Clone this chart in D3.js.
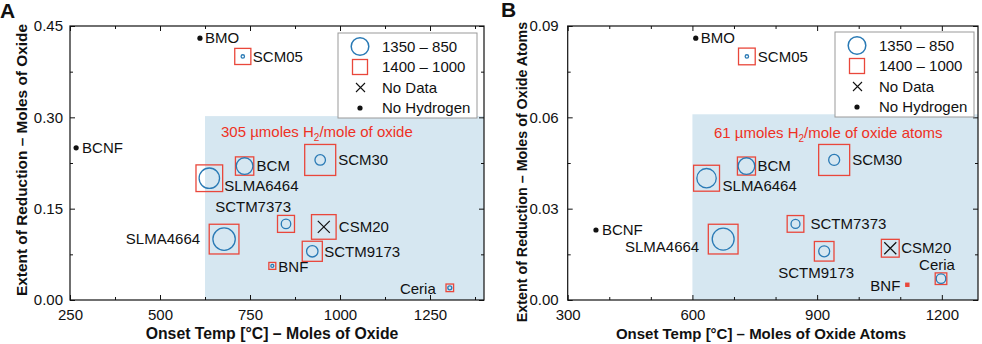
<!DOCTYPE html>
<html>
<head>
<meta charset="utf-8">
<script src="https://cdn.jsdelivr.net/npm/d3@7"></script>
<style>
  body { margin: 0; background: #fff; }
  svg { font-family: "Liberation Sans", Arial, sans-serif; }
</style>
</head>
<body>
<svg id="drawing_region"></svg>
<script>
// samples, same order in every array
const samples = ["BMO", "SCM05", "BCNF", "BCM", "SLMA6464", "SCM30", "SCTM7373", "CSM20", "SCTM9173", "BNF", "Ceria", "SLMA4664"];

// panel A : per mole of oxide
const onsetA = [611, 730, 267, 735, 637, 945, 850, 955, 923, 812, 1305, 678];
const reductionA = [0.43, 0.40, 0.25, 0.22, 0.20, 0.23, 0.125, 0.12, 0.08, 0.056, 0.02, 0.10];
const h2CycleHighA = [null, 2.3, null, 55, 83, 22, 18, null, 26, 1.3, 3.2, 100];   // 1350 - 850 (circles), null = no data
const h2CycleLowA = [null, 27, null, 35, 74, 100, 30, 63, 42, 5, 6, 92];          // 1400 - 1000 (squares), null = no hydrogen

// panel B : per mole of oxide atoms
const onsetB = [608, 731, 368, 730, 634, 941, 848, 1076, 917, 1117, 1198, 674];
const reductionB = [0.086, 0.080, 0.023, 0.044, 0.040, 0.046, 0.025, 0.017, 0.016, 0.005, 0.007, 0.020];
const h2CycleHighB = [null, 2.3, null, 55, 75, 24, 16, null, 24, 0, 18, 96];
const h2CycleLowB = [null, 29, null, 34, 70, 100, 29, 33, 40, 1, 14, 92];

// ticks
const xMajorA = [250, 500, 750, 1000, 1250], xMinorA = [375, 625, 875, 1125, 1375];
const yMajorA = [0, 0.15, 0.30, 0.45], yMinorA = [0.075, 0.225, 0.375];
const xMajorB = [300, 600, 900, 1200], xMinorB = [400, 500, 700, 800, 1000, 1100];
const yMajorB = [0, 0.03, 0.06, 0.09], yMinorB = [0.015, 0.045, 0.075];

const legendLabels = ["1350 \u2013 850", "1400 \u2013 1000", "No Data", "No Hydrogen"];

const BLUE = "#2a7ab5", RED = "#e9473b", SHADE = "#d6e7f1";

const svg = d3.select("#drawing_region").attr("width", 982).attr("height", 344);

// label placement (layout only)
const labelPosA = {
  BMO: [5, 0, "start"], SCM05: [10, 0, "start"], BCNF: [6, 0, "start"], BCM: [12, 0, "start"],
  SLMA6464: [15, 8, "start"], SCM30: [18, 0, "start"], SCTM7373: [5, -17, "end"], CSM20: [15, 0, "start"],
  SCTM9173: [12, 0, "start"], BNF: [6, 1, "start"], Ceria: [-14, 1, "end"], SLMA4664: [-24, 0, "end"]
};
const labelPosB = {
  BMO: [5, 0, "start"], SCM05: [11, 0, "start"], BCNF: [6, 0, "start"], BCM: [11, 0, "start"],
  SLMA6464: [16, 8, "start"], SCM30: [18, 0, "start"], SCTM7373: [15, 0, "start"], CSM20: [11, 0, "start"],
  SCTM9173: [-8, 21, "middle"], BNF: [-7, 1, "end"], Ceria: [-4, -14, "middle"], SLMA4664: [-24, 8, "end"]
};

function drawPanel(cfg) {
  const g = svg.append("g");
  const x = d3.scaleLinear().domain(cfg.xDomain).range([cfg.left, cfg.right]);
  const y = d3.scaleLinear().domain(cfg.yDomain).range([cfg.bottom, cfg.top]);
  const rScale = d3.scaleSqrt().domain([0, 100]).range([0, 11.2]);
  const sScale = d3.scaleSqrt().domain([0, 100]).range([0, 31]);

  const data = samples.map((s, i) => ({
    name: s, x: cfg.onset[i], y: cfg.red[i], high: cfg.high[i], low: cfg.low[i]
  }));

  // shaded region
  g.append("rect")
    .attr("x", x(cfg.shade[0])).attr("y", y(cfg.shade[1]))
    .attr("width", x(cfg.xDomain[1]) - x(cfg.shade[0]))
    .attr("height", y(0) - y(cfg.shade[1]))
    .attr("fill", SHADE);

  g.append("text")
    .attr("x", cfg.shadeText[0]).attr("y", cfg.shadeText[1])
    .attr("font-size", 15).attr("fill", "#ee3124")
    .call(t => {
      t.append("tspan").text(cfg.shadeLabel[0]);
      t.append("tspan").attr("font-size", 10).attr("dy", 4).text("2");
      t.append("tspan").attr("dy", -4).text(cfg.shadeLabel[1]);
    });

  // axes with inward ticks
  const axes = [
    [d3.axisBottom, x, `translate(0,${cfg.bottom})`, cfg.xMajor, cfg.xMinor, d3.format("d"), 9],
    [d3.axisTop, x, `translate(0,${cfg.top})`, cfg.xMajor, cfg.xMinor, null, 0],
    [d3.axisLeft, y, `translate(${cfg.left},0)`, cfg.yMajor, cfg.yMinor, d3.format(".2f"), cfg.yPad],
    [d3.axisRight, y, `translate(${cfg.right},0)`, cfg.yMajor, cfg.yMinor, null, 0]
  ];
  axes.forEach(([axisFn, sc, tr, major, minor, fmt, pad]) => {
    const ag = g.append("g").attr("transform", tr)
      .call(axisFn(sc).tickValues(major).tickSizeInner(-5).tickSizeOuter(0).tickPadding(pad)
        .tickFormat(fmt ? fmt : () => ""));
    ag.attr("font-size", 15).attr("font-family", null);
    ag.selectAll("text").attr("fill", "#111");
    ag.select(".domain").remove();
    const mg = g.append("g").attr("transform", tr)
      .call(axisFn(sc).tickValues(minor).tickSizeInner(-3).tickSizeOuter(0).tickFormat(() => ""));
    mg.select(".domain").remove();
  });
  g.selectAll(".tick line").attr("stroke", "#111");

  // frame
  g.append("rect")
    .attr("x", cfg.left).attr("y", cfg.top)
    .attr("width", cfg.right - cfg.left).attr("height", cfg.bottom - cfg.top)
    .attr("fill", "none").attr("stroke", "#111").attr("stroke-width", 1.2);

  // squares (1400 - 1000)
  g.selectAll("rect.sq").data(data.filter(d => d.low != null)).enter()
    .append("rect").attr("class", "sq")
    .attr("x", d => x(d.x) - sScale(d.low) / 2)
    .attr("y", d => y(d.y) - sScale(d.low) / 2)
    .attr("width", d => sScale(d.low)).attr("height", d => sScale(d.low))
    .attr("fill", d => d.low < 3 ? RED : "none")
    .attr("stroke", RED).attr("stroke-width", 1.3);

  // circles (1350 - 850)
  g.selectAll("circle.ci").data(data.filter(d => d.high > 0)).enter()
    .append("circle").attr("class", "ci")
    .attr("cx", d => x(d.x)).attr("cy", d => y(d.y))
    .attr("r", d => Math.max(rScale(d.high), 1.5))
    .attr("fill", "none").attr("stroke", BLUE).attr("stroke-width", 1.3);

  // no data (cross)
  data.filter(d => d.high == null && d.low != null).forEach(d => {
    const cx = x(d.x), cy = y(d.y), h = 6;
    g.append("path")
      .attr("d", `M${cx - h},${cy - h}L${cx + h},${cy + h}M${cx - h},${cy + h}L${cx + h},${cy - h}`)
      .attr("stroke", "#111").attr("stroke-width", 1.2);
  });

  // no hydrogen (dots)
  g.selectAll("circle.dot").data(data.filter(d => d.high == null && d.low == null)).enter()
    .append("circle").attr("class", "dot")
    .attr("cx", d => x(d.x)).attr("cy", d => y(d.y)).attr("r", 2.6).attr("fill", "#111");

  // labels
  g.selectAll("text.lab").data(data).enter()
    .append("text").attr("class", "lab")
    .attr("x", d => x(d.x) + cfg.labels[d.name][0])
    .attr("y", d => y(d.y) + cfg.labels[d.name][1])
    .attr("dy", "0.35em")
    .attr("text-anchor", d => cfg.labels[d.name][2])
    .attr("font-size", 15).attr("fill", "#111")
    .text(d => d.name);

  // legend
  const lg = g.append("g").attr("transform", `translate(${cfg.legend[0]},${cfg.legend[1]})`);
  lg.append("rect").attr("width", 139).attr("height", 85)
    .attr("fill", "#fff").attr("stroke", "#999").attr("stroke-width", 1);
  const rows = [13.5, 34, 54.5, 75];
  lg.append("circle").attr("cx", 22).attr("cy", rows[0]).attr("r", 8.8)
    .attr("fill", "none").attr("stroke", BLUE).attr("stroke-width", 1.5);
  lg.append("rect").attr("x", 14.5).attr("y", rows[1] - 7.5).attr("width", 15).attr("height", 15)
    .attr("fill", "none").attr("stroke", RED).attr("stroke-width", 1.3);
  lg.append("path")
    .attr("d", `M18,${rows[2] - 4.5}L27,${rows[2] + 4.5}M18,${rows[2] + 4.5}L27,${rows[2] - 4.5}`)
    .attr("stroke", "#111").attr("stroke-width", 1.1);
  lg.append("circle").attr("cx", 22).attr("cy", rows[3]).attr("r", 2.6).attr("fill", "#111");
  lg.selectAll("text").data(legendLabels).enter().append("text")
    .attr("x", 44).attr("y", (d, i) => rows[i]).attr("dy", "0.35em")
    .attr("font-size", 15).attr("fill", "#111").text(d => d);

  // titles
  g.append("text")
    .attr("x", cfg.xTitle[0]).attr("y", 339).attr("text-anchor", "middle")
    .attr("font-size", cfg.xTitle[1]).attr("font-weight", "bold").attr("fill", "#111")
    .text(cfg.xLabel);
  g.append("text")
    .attr("transform", `translate(${cfg.yTitle[0]},${cfg.yTitle[1]}) rotate(-90)`)
    .attr("text-anchor", "middle").attr("dy", "0.35em")
    .attr("font-size", cfg.yTitle[2]).attr("font-weight", "bold").attr("fill", "#111")
    .text(cfg.yLabel);
  g.append("text")
    .attr("x", cfg.panel[0]).attr("y", cfg.panel[1])
    .attr("font-size", 21).attr("font-weight", "bold").attr("fill", "#111")
    .text(cfg.panelName);
}

drawPanel({
  panelName: "A", panel: [0, 18],
  left: 70, right: 484, top: 26, bottom: 300,
  xDomain: [250, 1400], yDomain: [0, 0.45], yPad: 7,
  xMajor: xMajorA, xMinor: xMinorA, yMajor: yMajorA, yMinor: yMinorA,
  onset: onsetA, red: reductionA, high: h2CycleHighA, low: h2CycleLowA,
  shade: [625, 0.302], shadeText: [221, 137],
  shadeLabel: ["305 \u00b5moles H", "/mole of oxide"],
  labels: labelPosA, legend: [338, 33],
  xLabel: "Onset Temp [\u00b0C] \u2013 Moles of Oxide", xTitle: [272, 15.8],
  yLabel: "Extent of Reduction \u2013 Moles of Oxide", yTitle: [22, 160, 15.4]
});

drawPanel({
  panelName: "B", panel: [501, 17],
  left: 567.7, right: 978, top: 26, bottom: 300,
  xDomain: [300, 1287], yDomain: [0, 0.09], yPad: 9,
  xMajor: xMajorB, xMinor: xMinorB, yMajor: yMajorB, yMinor: yMinorB,
  onset: onsetB, red: reductionB, high: h2CycleHighB, low: h2CycleLowB,
  shade: [600, 0.061], shadeText: [714, 138],
  shadeLabel: ["61 \u00b5moles H", "/mole of oxide atoms"],
  labels: labelPosB, legend: [835, 32],
  xLabel: "Onset Temp [\u00b0C] \u2013 Moles of Oxide Atoms", xTitle: [761, 15],
  yLabel: "Extent of Reduction \u2013 Moles of Oxide Atoms", yTitle: [522, 172, 14.3]
});
</script>
</body>
</html>
